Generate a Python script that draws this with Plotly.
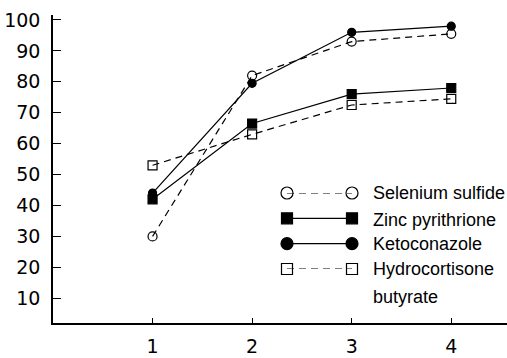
import plotly.graph_objects as go

weeks = [1, 2, 3, 4]
series_names = ["Selenium sulfide", "Zinc pyrithrione", "Ketoconazole", "Hydrocortisone"]
selenium = [30, 82, 93, 95.5]
zinc = [42, 66.5, 76, 78]
keto = [44, 79.5, 96, 98]
hydro = [53, 63, 72.5, 74.5]
y_ticks = [10, 20, 30, 40, 50, 60, 70, 80, 90, 100]
x_ticks = [1, 2, 3, 4]

styles = [
    dict(symbol="circle-open", dash="7px,5px", msize=9, lsize=12),
    dict(symbol="square", dash="solid", msize=9, lsize=11),
    dict(symbol="circle", dash="solid", msize=8, lsize=12),
    dict(symbol="square-open", dash="7px,5px", msize=9, lsize=11),
]
values = [selenium, zinc, keto, hydro]

fig = go.Figure()
for name, vals, st in zip(series_names, values, styles):
    fig.add_trace(go.Scatter(
        x=weeks, y=vals, mode="lines+markers", name=name, showlegend=False,
        line=dict(color="black", width=1.2, dash=st["dash"]),
        marker=dict(symbol=st["symbol"], size=st["msize"], color="black",
                    line=dict(color="black", width=1.2)),
        cliponaxis=False,
    ))

# custom legend keys (markers at both ends of the sample line)
for i, (name, st) in enumerate(zip(series_names, styles)):
    fig.add_trace(go.Scatter(
        x=[0, 1], y=[i, i], mode="lines+markers", showlegend=False,
        xaxis="x2", yaxis="y2", hoverinfo="skip",
        line=dict(color="black", width=1.2, dash=st["dash"]),
        marker=dict(symbol=st["symbol"], size=st["lsize"], color="black",
                    line=dict(color="black", width=1.2)),
        cliponaxis=False,
    ))

legend_labels = ["Selenium sulfide", "Zinc pyrithrione", "Ketoconazole", "Hydrocortisone", "butyrate"]
legend_rows = [193, 220, 244, 269, 297]
annotations = []
for lab, py in zip(legend_labels, legend_rows):
    annotations.append(dict(
        text=lab, x=(371 - 53) / 454, y=(323 - py) / 308, xref="paper", yref="paper",
        xanchor="left", yanchor="middle", showarrow=False,
        font=dict(family="Liberation Sans", size=18, color="black"),
    ))

fig.update_layout(
    width=507, height=358,
    margin=dict(l=53, r=0, t=15, b=35),
    paper_bgcolor="white", plot_bgcolor="white",
    font=dict(family="DejaVu Sans", size=19, color="black"),
    xaxis=dict(range=[0, 4.56], tickvals=x_ticks, ticks="inside", ticklen=5,
               tickcolor="black", showline=True, linecolor="black", linewidth=1.5,
               showgrid=False, zeroline=False, tickfont=dict(size=19),
               ticklabelstandoff=5, automargin=False),
    yaxis=dict(range=[2, 101.6], tickvals=y_ticks, ticks="inside", ticklen=8,
               tickcolor="black", showline=True, linecolor="black", linewidth=1.5,
               showgrid=False, zeroline=False, tickfont=dict(size=19),
               ticklabelstandoff=7, automargin=False),
    xaxis2=dict(domain=[(287 - 53) / 454, (352 - 53) / 454], range=[0, 1],
                visible=False, anchor="y2"),
    yaxis2=dict(domain=[(323 - 269) / 308, (323 - 193) / 308], range=[3, 0],
                visible=False, anchor="x2"),
    annotations=annotations,
)

fig.write_html("out.html", config={"displayModeBar": False},
               post_script="document.body.style.margin='0';")
